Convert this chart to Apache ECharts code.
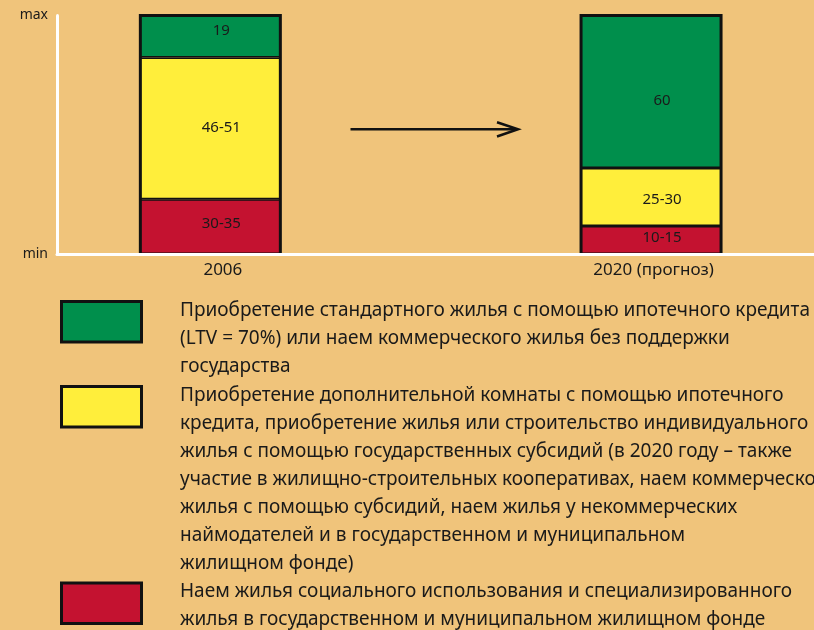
<!DOCTYPE html>
<html>
<head>
<meta charset="utf-8">
<script src="https://cdn.jsdelivr.net/npm/echarts@6/dist/echarts.min.js"></script>
<style>
  html, body { margin: 0; padding: 0; background: #F0C47B; }
  #chart { width: 814px; height: 630px; }
</style>
</head>
<body>
<div id="chart"></div>
<script>
const categories = ['2006', '2020 (прогноз)'];
const yTickLabels = ['min', 'max'];

// segment shares (min = 0, max = 100)
const redValues = [23.0, 11.7];
const yellowValues = [59.4, 24.4];
const greenValues = [17.6, 63.9];

// texts printed inside the segments
const redLabels = ['30-35', '10-15'];
const yellowLabels = ['46-51', '25-30'];
const greenLabels = ['19', '60'];

const colors = ['#008F4C', '#FFEE3B', '#C41230'];

const legendTexts = [
    'Приобретение стандартного жилья с помощью ипотечного кредита\n(LTV = 70%) или наем коммерческого жилья без поддержки\nгосударства',
    'Приобретение дополнительной комнаты с помощью ипотечного\nкредита, приобретение жилья или строительство индивидуального\nжилья с помощью государственных субсидий (в 2020 году – также\nучастие в жилищно-строительных кооперативах, наем коммерческого\nжилья с помощью субсидий, наем жилья у некоммерческих\nнаймодателей и в государственном и муниципальном\nжилищном фонде)',
    'Наем жилья социального использования и специализированного\nжилья в государственном и муниципальном жилищном фонде'
];

const FONT = 'Noto Sans';

// small vertical nudges of the in-bar texts, as in the original
const redNudge = [-3, -2];
const yellowNudge = [-1, 3];
const greenNudge = [-6, 9];

function makeSeries(name, values, labels, nudge, color, outline) {
    return {
        name,
        type: 'bar',
        stack: 'total',
        xAxisIndex: 1,
        yAxisIndex: 1,
        barWidth: 140,
        // the background box of one series gives the outer frame of each column
        showBackground: outline,
        backgroundStyle: { color: 'rgba(0,0,0,0)', borderColor: '#111', borderWidth: 3 },
        data: values.map((v, i) => ({
            value: v,
            label: { offset: [11, nudge[i]] }
        })),
        itemStyle: { color, borderColor: '#111', borderWidth: 1.5 },
        label: {
            show: true,
            position: 'inside',
            color: '#1a1a1a',
            fontFamily: FONT,
            fontSize: 15,
            formatter: (p) => labels[p.dataIndex]
        }
    };
}

// legend swatches and texts
const legendTops = [300, 385, 581.5];
const legendGraphics = [];
legendTexts.forEach((t, i) => {
    legendGraphics.push({
        type: 'rect',
        shape: { x: 61.5, y: legendTops[i] + 1.5, width: 80, height: 40.5 },
        style: { fill: colors[i], stroke: '#111', lineWidth: 3 }
    });
    legendGraphics.push({
        type: 'text',
        x: 180,
        y: legendTops[i] - 3.5,
        style: {
            text: t,
            fill: '#1a1a1a',
            font: '19px "' + FONT + '"',
            lineHeight: 28,
            verticalAlign: 'top'
        }
    });
});

const chart = echarts.init(document.getElementById('chart'));
const option = {
    backgroundColor: '#F0C47B',
    animation: false,
    grid: [
        // frame with the white axes
        { left: 57, right: 0, top: 15.5, bottom: 376, outerBoundsMode: 'none' },
        // wider grid so that the two bands sit under the bars
        { left: -10, right: -57.4, top: 15.5, bottom: 376, outerBoundsMode: 'none' }
    ],
    xAxis: [
        {
            type: 'value',
            gridIndex: 0,
            min: 0,
            max: 1,
            z: 5,
            splitLine: { show: false },
            axisTick: { show: false },
            axisLabel: { show: false },
            axisLine: { lineStyle: { color: '#fff', width: 3 } }
        },
        {
            type: 'category',
            gridIndex: 1,
            data: categories,
            axisLine: { show: false },
            axisTick: { show: false },
            axisLabel: {
                color: '#1a1a1a',
                fontFamily: FONT,
                fontSize: 17,
                margin: 8,
                formatter: (v, i) => (i === 0 ? '{a|' + v + '}' : '{b|' + v + '}'),
                rich: {
                    a: { fontFamily: FONT, fontSize: 17, color: '#1a1a1a', padding: [0, 0, 0, 25] },
                    b: { fontFamily: FONT, fontSize: 17, color: '#1a1a1a', padding: [0, 0, 0, 5] }
                }
            }
        }
    ],
    yAxis: [
        {
            type: 'value',
            gridIndex: 0,
            min: 0,
            max: 100,
            z: 5,
            splitLine: { show: false },
            axisTick: { show: false },
            axisLine: { show: true, lineStyle: { color: '#fff', width: 3 } },
            axisLabel: {
                customValues: [0, 100],
                formatter: (v) => (v === 0 ? yTickLabels[0] : yTickLabels[1]),
                color: '#1a1a1a',
                fontFamily: FONT,
                fontSize: 14,
                margin: 9
            }
        },
        {
            type: 'value',
            gridIndex: 1,
            min: 0,
            max: 100,
            show: false
        }
    ],
    series: [
        makeSeries('red', redValues, redLabels, redNudge, colors[2], true),
        makeSeries('yellow', yellowValues, yellowLabels, yellowNudge, colors[1], false),
        makeSeries('green', greenValues, greenLabels, greenNudge, colors[0], false)
    ],
    graphic: [
        // arrow between the two years
        {
            type: 'line',
            shape: { x1: 350.5, y1: 129.3, x2: 517, y2: 129.3 },
            style: { stroke: '#111', lineWidth: 2.5 }
        },
        {
            type: 'polyline',
            shape: { points: [[497, 122.3], [518, 129.3], [497, 136.5]] },
            style: { stroke: '#111', lineWidth: 2.5, fill: null }
        },
        ...legendGraphics
    ]
};
chart.setOption(option);
</script>
</body>
</html>
